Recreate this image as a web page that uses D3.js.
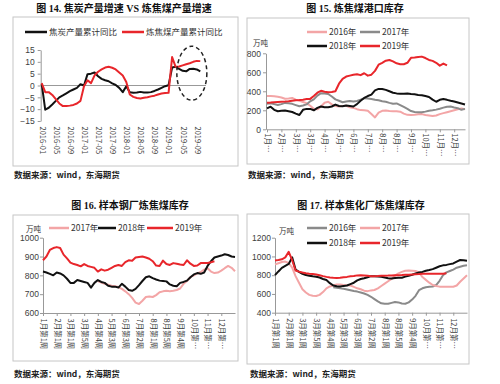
<!DOCTYPE html>
<html lang="zh">
<head>
<meta charset="UTF-8">
<title>炼焦煤</title>
<script src="https://d3js.org/d3.v7.min.js"></script>
<style>
  body { margin: 0; background: #fff; }
  svg text { font-family: "Noto Sans CJK SC", "Noto Sans", sans-serif; }
</style>
</head>
<body>
<svg id="chart" width="500" height="384"></svg>
<script>
// ---- 图14: monthly cumulative y/y, 2016-01 .. 2019-10 ----
var monthTicks = ['2016-01','2016-05','2016-09','2017-01','2017-05','2017-09','2018-01','2018-05','2018-09','2019-01','2019-05','2019-09'];
var cokeYoY = [0.7,-10.2,-9.4,-8,-6.5,-5,-4.2,-3.3,-2.4,-1.7,-1,0.5,
               0,4.8,5,5.5,3.9,2.8,2.2,1.8,0.9,0.2,-1,-2.8,
               -0.3,-2.9,-3.1,-3,-2.7,-3,-3,-2.8,-2.3,-1.7,-1,-0.3,
               0.1,7.6,7.9,7,6.2,6,7,7.1,6.8,6];
var coalYoY = [1,-2.8,-2.8,-4,-5.8,-7.6,-8.7,-8.7,-8.5,-8.2,-7.6,-6.5,
               -0.3,2.2,1,4.3,5.8,6.8,7.6,7.9,7.5,6.8,5.5,4.2,
               1.5,-3.8,-4.8,-5.3,-5.5,-5.2,-5,-4.6,-4.3,-3.8,-3.4,-3.2,
               -3.1,12,7.9,8,8.5,9,9.4,10,10.4,10.3];

// ---- weekly panels ----
var weekTicks = ['1月第1周','2月第1周','3月第1周','3月第5周','4月第4周','5月第3周','6月第3周','7月第2周','8月第1周','8月第5周','9月第4周','10月第…','11月第…','12月第…'];
var weekShort = ['1月…','2月…','3月…','3月…','4月…','5月…','6月…','7月…','8月…','8月…','9月…','10月…','11月…','12月…'];

// 图15 港口库存 (万吨)
var port2016 = [350,350,348,342,335,322,325,330,312,300,288,275,248,215,210,240,280,290,262,245,
                240,245,248,232,225,212,202,200,195,160,125,175,195,198,192,190,190,185,165,152,
                150,152,158,160,150,145,140,145,160,170,180,190,200,210,218,210];
var port2017 = [270,275,265,255,265,278,275,268,255,242,250,262,295,315,355,380,378,372,345,315,
                300,285,292,298,292,298,312,328,325,320,312,305,295,290,278,270,272,255,235,215,
                192,182,180,180,186,195,200,207,216,228,238,240,230,222,205,215];
var port2018 = [220,238,205,190,195,198,190,182,165,150,205,215,215,200,225,240,232,232,240,260,
                245,242,250,245,240,265,300,330,350,365,410,425,425,415,400,385,378,375,375,378,
                372,368,362,358,350,340,312,290,310,318,310,300,292,282,272,262];
var port2019 = [280,282,285,288,290,292,295,300,305,308,312,318,320,350,385,405,395,390,392,400,
                480,530,555,565,575,580,570,590,565,575,615,680,700,722,730,715,695,685,685,700,
                752,755,760,765,750,730,720,700,670,692,672];

// 图16 样本钢厂 (万吨)
var mill2017 = [null,null,null,null,null,null,null,null,null,null,null,null,null,null,null,null,
                770,762,755,750,745,742,738,728,715,700,680,655,648,665,685,688,685,695,710,715,
                718,716,718,722,730,755,770,790,800,810,818,830,838,820,812,815,825,838,850,840,822];
var mill2018 = [820,815,808,800,815,810,800,782,760,760,775,770,765,760,735,760,775,765,760,745,
                740,740,735,755,740,722,718,728,748,770,790,795,785,778,772,770,768,752,745,742,
                760,765,772,790,805,812,808,815,850,875,895,900,905,912,908,900,898];
var mill2019 = [880,900,935,945,950,945,910,890,868,860,855,848,860,850,845,840,820,832,825,830,
                840,850,855,850,870,880,878,895,898,900,895,888,875,852,850,878,860,855,865,862,
                858,855,880,862,850,852,865,866,866,870,875];

// 图17 样本焦化厂 (万吨)
var coke2016 = [null,null,null,null,null,null,null,null,null,null,null,null,null,null,null,null,null,
                672,665,660,655,648,640,632,625,615,605,590,570,545,520,500,495,495,505,515,510,
                498,495,510,540,580,640,660,672,677,680,695,740,800,830,845,860,880,890,900,905];
var coke2017 = [915,928,940,945,930,880,790,720,650,615,590,580,578,590,620,660,680,690,700,700,
                695,692,690,675,660,650,635,630,638,642,660,685,710,735,760,795,820,835,848,850,
                848,845,830,780,750,720,695,685,678,677,677,677,677,690,730,765,800];
var coke2018 = [800,840,878,900,920,990,860,835,815,801,795,788,784,775,760,748,715,690,682,680,
                686,690,705,720,745,760,768,778,790,788,786,783,775,768,766,770,772,773,785,795,
                805,818,828,835,848,855,865,880,895,905,910,918,925,945,962,960,955];
var coke2019 = [958,962,970,990,1050,960,850,838,828,820,816,814,808,800,790,782,776,772,770,772,
                778,782,788,792,798,800,798,795,790,790,792,795,795,796,798,800,800,802,805,806,
                808,810,812,815,816,815,815,815,815,816,820];

var RED = '#e8262b', BLACK = '#111', GRAY = '#8a8a8a', PINK = '#f3a5a6';

var svg = d3.select('#chart');

function frame(x, y, w, h) {
    svg.append('rect')
        .attr('x', x).attr('y', y).attr('width', w).attr('height', h)
        .attr('fill', 'none').attr('stroke', '#c6c6c6').attr('stroke-width', 1);
}

function title(txt, cx, cy) {
    svg.append('text')
        .attr('x', cx).attr('y', cy).attr('dy', '0.35em')
        .attr('text-anchor', 'middle')
        .style('font-family', '"Liberation Serif", "Noto Sans CJK SC", serif')
        .style('font-size', '10px').style('font-weight', 'bold').attr('fill', '#111')
        .text(txt);
}

function note(x, y) {
    svg.append('text')
        .attr('x', x).attr('y', y).attr('dy', '0.35em')
        .style('font-size', '8.5px').style('font-weight', 'bold').attr('fill', '#222')
        .text('数据来源：wind，东海期货');
}

function legendItem(x, y, len, color, label) {
    svg.append('line')
        .attr('x1', x).attr('x2', x + len).attr('y1', y).attr('y2', y)
        .attr('stroke', color).attr('stroke-width', 2.5);
    svg.append('text')
        .attr('x', x + len + 2).attr('y', y).attr('dy', '0.35em')
        .style('font-size', '8.5px').attr('fill', '#333')
        .text(label);
}

function unit(x, y) {
    svg.append('text')
        .attr('x', x).attr('y', y).attr('dy', '0.35em')
        .style('font-size', '7.5px').attr('fill', '#333')
        .text('万吨');
}

function yAxis(scale, x, ticks, pad) {
    var g = svg.append('g')
        .attr('transform', 'translate(' + x + ',0)')
        .call(d3.axisLeft(scale).tickValues(ticks).tickSize(3).tickPadding(pad).tickSizeOuter(0)
            .tickFormat(d3.format('d')));
    g.select('.domain').attr('stroke', '#999');
    g.selectAll('.tick line').attr('stroke', '#999');
    g.selectAll('text').style('font-size', '8.5px').attr('fill', '#404040')
        .style('font-family', '"Liberation Sans", Arial, sans-serif');
    return g;
}

function xAxis(scale, y, idx, labels, showLine, off) {
    var g = svg.append('g')
        .attr('transform', 'translate(0,' + y + ')')
        .call(d3.axisBottom(scale).tickValues(idx).tickSize(showLine ? 3 : 0).tickSizeOuter(0)
            .tickFormat(function(d, i) { return labels[i]; }));
    if (showLine) {
        g.select('.domain').attr('stroke', '#999');
        g.selectAll('.tick line').attr('stroke', '#999');
    } else {
        g.select('.domain').remove();
    }
    g.selectAll('text')
        .attr('transform', 'rotate(90)')
        .attr('x', off).attr('y', 0).attr('dy', '0.35em')
        .style('text-anchor', 'start')
        .style('font-size', '7.5px').attr('fill', '#404040');
    return g;
}

function series(x, y, values, color, w) {
    var line = d3.line()
        .defined(function(d) { return d != null; })
        .x(function(d, i) { return x(i); })
        .y(function(d) { return y(d); });
    svg.append('path')
        .datum(values)
        .attr('d', line)
        .attr('fill', 'none')
        .attr('stroke', color)
        .attr('stroke-width', w || 2)
        .attr('stroke-linejoin', 'round');
}

var weekIdx = d3.range(0, 53, 4);

// ================= 图14 =================
frame(13, 17, 225, 149);
title('图 14. 焦炭产量增速 VS 炼焦煤产量增速', 124, 8);
note(14, 175);
legendItem(25, 32, 22, BLACK, '焦炭产量累计同比');
legendItem(122, 32, 22, RED, '炼焦煤产量累计同比');

var x1 = d3.scaleLinear().domain([0, cokeYoY.length - 1]).range([41.7, 200.3]);
var y1 = d3.scaleLinear().domain([-15, 15]).range([121, 50]);

yAxis(y1, 40.7, [-15, -10, -5, 0, 5, 10, 15], 3);
svg.append('line')
    .attr('x1', 40.7).attr('x2', 206).attr('y1', y1(0)).attr('y2', y1(0))
    .attr('stroke', '#999');
xAxis(x1, y1(-15), d3.range(0, 45, 4), monthTicks, false, 5.5);

series(x1, y1, cokeYoY, BLACK, 2);
series(x1, y1, coalYoY, RED, 2);

svg.append('ellipse')
    .attr('cx', x1(42.6)).attr('cy', y1(5.2))
    .attr('rx', 15).attr('ry', 27)
    .attr('fill', 'none').attr('stroke', '#222')
    .attr('stroke-width', 1.5).attr('stroke-dasharray', '4,3');

// ================= 图15 =================
frame(247, 18, 222, 146);
title('图 15. 炼焦煤港口库存', 355, 8);
note(248, 175);
legendItem(307, 32, 20, PINK, '2016年');
legendItem(360, 32, 20, GRAY, '2017年');
legendItem(307, 46, 20, BLACK, '2018年');
legendItem(360, 46, 20, RED, '2019年');
unit(253, 43);

var x2 = d3.scaleLinear().domain([0, 55]).range([267, 465]);
var y2 = d3.scaleLinear().domain([0, 800]).range([129.3, 53.3]);
yAxis(y2, 266, [0, 200, 400, 600, 800], 2);
xAxis(x2, 129.3, weekIdx, weekShort, true, 4);

series(x2, y2, port2016, PINK, 2);
series(x2, y2, port2017, GRAY, 2);
series(x2, y2, port2018, BLACK, 2);
series(x2, y2, port2019, RED, 2);

// ================= 图16 =================
frame(13, 215, 225, 146);
title('图 16. 样本钢厂炼焦煤库存', 130, 205);
note(14, 374);
legendItem(49, 228, 20, PINK, '2017年');
legendItem(98, 228, 18, BLACK, '2018年');
legendItem(147, 228, 26, RED, '2019年');

var x3 = d3.scaleLinear().domain([0, 56]).range([43, 235]);
var y3 = d3.scaleLinear().domain([600, 1000]).range([313, 237.7]);
yAxis(y3, 43, [600, 700, 800, 900, 1000], 1);
unit(26, 229.5);
xAxis(x3, 313, weekIdx, weekTicks, true, 5.5);

series(x3, y3, mill2017, PINK, 2);
series(x3, y3, mill2018, BLACK, 2);
series(x3, y3, mill2019, RED, 2);

// ================= 图17 =================
frame(247, 214, 222, 150);
title('图 17. 样本焦化厂炼焦煤库存', 361, 205);
note(250, 374);
legendItem(307, 228, 20, GRAY, '2016年');
legendItem(360, 228, 20, PINK, '2017年');
legendItem(307, 243, 20, BLACK, '2018年');
legendItem(360, 243, 20, RED, '2019年');

var x4 = d3.scaleLinear().domain([0, 56]).range([275, 467]);
var y4 = d3.scaleLinear().domain([400, 1200]).range([312.7, 237.7]);
yAxis(y4, 275, [400, 600, 800, 1000, 1200], 1);
unit(279, 231.5);
xAxis(x4, 312.7, weekIdx, weekTicks, true, 5.5);

series(x4, y4, coke2016, GRAY, 2);
series(x4, y4, coke2017, PINK, 2);
series(x4, y4, coke2018, BLACK, 2);
series(x4, y4, coke2019, RED, 2);
</script>
</body>
</html>
